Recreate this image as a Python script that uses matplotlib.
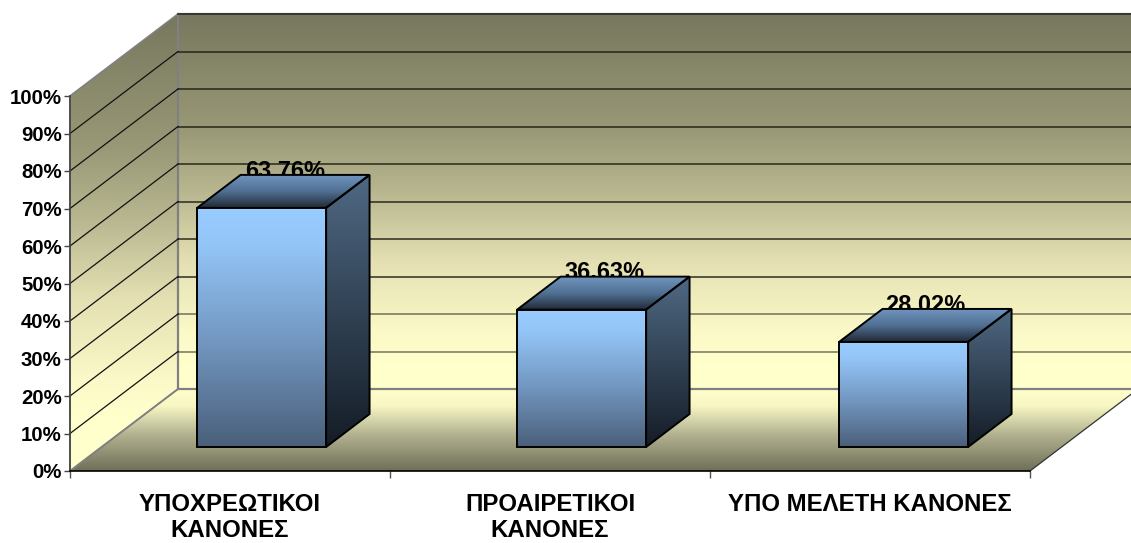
import numpy as np
import matplotlib
matplotlib.use("Agg")
import matplotlib.pyplot as plt
from matplotlib.colors import LinearSegmentedColormap
from matplotlib.patches import Polygon

categories = ["ΥΠΟΧΡΕΩΤΙΚΟΙ\nΚΑΝΟΝΕΣ", "ΠΡΟΑΙΡΕΤΙΚΟΙ\nΚΑΝΟΝΕΣ", "ΥΠΟ ΜΕΛΕΤΗ ΚΑΝΟΝΕΣ"]
values = [63.76, 36.63, 28.02]
value_labels = ["63.76%", "36.63%", "28.02%"]
y_ticks = [0, 10, 20, 30, 40, 50, 60, 70, 80, 90, 100]

# depth of the fake 3d box, in data units
DX = 108 / 320.0
DY = 82 / 3.75
BAR_W = 129 / 320.0
BAR_NEAR = 0.293
BAR_FAR = 0.695

plt.rcParams["font.family"] = ["Liberation Sans", "DejaVu Sans"]
plt.rcParams["font.weight"] = "bold"

wall_cmap = LinearSegmentedColormap.from_list("wall", [
    (0.0, "#77775e"), (0.3, "#9a9a78"), (0.45, "#b8b790"),
    (0.62, "#e3dfb2"), (0.8, "#fbf9c7"), (0.88, "#ffffcc"), (1.0, "#ffffcc")])
floor_cmap = LinearSegmentedColormap.from_list("floor", [
    (0.0, "#ffffcc"), (0.2, "#f8f7c4"), (0.55, "#b3b391"), (1.0, "#6f6f58")])
front_cmap = LinearSegmentedColormap.from_list("front", [
    (0.0, "#99ccff"), (0.15, "#94c6f8"), (0.55, "#7398c2"), (1.0, "#4a5f7a")])
side_cmap = LinearSegmentedColormap.from_list("side", ["#4f6983", "#141c26"])
top_cmap = LinearSegmentedColormap.from_list("top", ["#6f94bd", "#506f92", "#1f2935"])

fig = plt.figure(figsize=(11.31, 5.43), dpi=100)
ax = fig.add_axes([70 / 1131, 72 / 543, 960 / 1131, 375 / 543])
ax.set_xlim(0, 3)
ax.set_ylim(0, 100)
ax.patch.set_visible(False)


def point(c, v, d=0.0):
    return (c + d * DX, v + d * DY)


def face(corners, cmap, v_top, v_bot, z, edge="black", lw=1.4):
    xs = [p[0] for p in corners]
    ramp = np.linspace(0, 1, 256).reshape(-1, 1)
    im = ax.imshow(ramp, cmap=cmap, aspect="auto", origin="upper", zorder=z,
                   extent=(min(xs), max(xs), v_bot, v_top))
    poly = Polygon(corners, closed=True, transform=ax.transData, fc="none", ec="none")
    im.set_clip_box(fig.bbox)
    im.set_clip_path(poly)
    ax.add_patch(Polygon(corners, closed=True, fc="none", ec=edge, lw=lw, zorder=z + 0.1,
                         clip_on=False, joinstyle="miter"))


# walls and floor
wall_top = 100 + DY
face([point(0, 0), point(0, 0, 1), point(0, 100, 1), point(0, 100)], wall_cmap,
     wall_top, 0, 1, edge="#808080", lw=1.2)
face([point(0, 0, 1), point(3, 0, 1), point(3, 100, 1), point(0, 100, 1)], wall_cmap,
     wall_top, DY - 6, 1, edge="#808080", lw=1.6)
face([point(0, 0), point(3, 0), point(3, 0, 1), point(0, 0, 1)], floor_cmap,
     DY, 0, 1, edge="none", lw=0)
ax.plot(*zip(point(0, 0), point(0, 0, 1)), color="#808080", lw=1.2, zorder=2, clip_on=False)
ax.plot(*zip(point(3, 0), point(3, 0, 1)), color="#333333", lw=0.9, zorder=2, clip_on=False)
ax.plot(*zip(point(0, 0, 1), point(3, 0, 1)), color="#808080", lw=1.4, zorder=2, clip_on=False)

# gridlines on both walls
for t in y_ticks[1:]:
    if t < 100:
        ax.plot(*zip(point(0, t), point(0, t, 1)), color="#111111", lw=0.9, zorder=2, clip_on=False)
    ax.plot(*zip(point(0, t, 1), point(3, t, 1)), color="#1a1a10", lw=1.1,
            alpha=0.6 if t <= 20 else 0.9, zorder=2, clip_on=False)

# bars
for i, v in enumerate(values):
    x0 = i + 0.5 - BAR_W / 2 + (2 / 320 if i == 2 else 0)
    x1 = x0 + BAR_W
    ax.text(i + 0.5 + (BAR_NEAR + BAR_FAR) / 2 * DX + 0.005, v + DY * (BAR_NEAR + BAR_FAR) / 2 + 5.4,
            value_labels[i], ha="center", va="center", fontsize=16.9, color="black",
            zorder=3, clip_on=False)
    face([point(x0, v, BAR_NEAR), point(x1, v, BAR_NEAR), point(x1, v, BAR_FAR), point(x0, v, BAR_FAR)],
         top_cmap, v + BAR_FAR * DY, v + BAR_NEAR * DY, 4)
    face([point(x1, 0, BAR_NEAR), point(x1, 0, BAR_FAR), point(x1, v, BAR_FAR), point(x1, v, BAR_NEAR)],
         side_cmap, v + BAR_FAR * DY, BAR_NEAR * DY, 4)
    face([point(x0, 0, BAR_NEAR), point(x1, 0, BAR_NEAR), point(x1, v, BAR_NEAR), point(x0, v, BAR_NEAR)],
         front_cmap, v + BAR_NEAR * DY, BAR_NEAR * DY, 5)

ax.set_xlim(0, 3)
ax.set_ylim(0, 100)

# axes and ticks
for s in ["top", "right"]:
    ax.spines[s].set_visible(False)
ax.spines["left"].set_color("#444444")
ax.spines["left"].set_linewidth(1.2)
ax.spines["bottom"].set_color("black")
ax.spines["bottom"].set_linewidth(1.2)
ax.spines["left"].set_zorder(6)
ax.spines["bottom"].set_zorder(6)

ax.set_yticks(y_ticks)
ax.set_yticklabels([f"{t}%" for t in y_ticks], fontsize=14.7, fontweight="bold")
ax.tick_params(axis="y", length=4.5, width=1, color="#444444", pad=1.5)
ax.set_xticks([0, 1, 2, 3])
ax.set_xticklabels([])
ax.tick_params(axis="x", which="major", length=5, width=1, color="#555555")
ax.set_xticks([0.5, 1.5, 2.5], minor=True)
ax.set_xticklabels(categories, minor=True, fontsize=17.3, fontweight="bold", linespacing=1.22)
ax.tick_params(axis="x", which="minor", length=0, pad=15.5)

fig.savefig("out.png", dpi=100)
